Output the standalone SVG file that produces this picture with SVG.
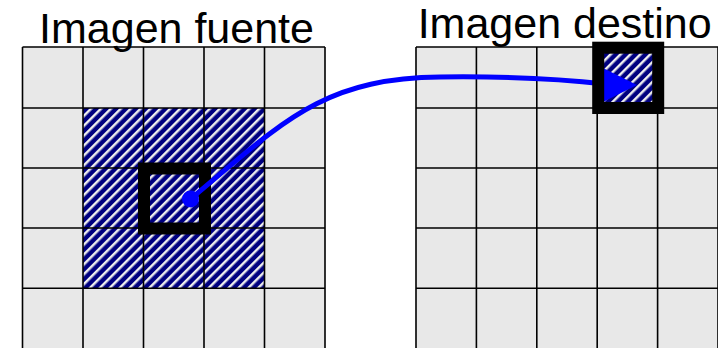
<svg xmlns="http://www.w3.org/2000/svg" width="718" height="348" viewBox="0 0 718 348">
<defs>
<pattern id="hatch" patternUnits="userSpaceOnUse" width="7" height="7" patternTransform="rotate(45)">
<rect x="0" y="0" width="7" height="7" fill="#000080"/>
<rect x="0" y="0" width="2.5" height="7" fill="#eeeeee"/>
</pattern>
</defs>
<style>
.bg{fill:#e8e8e8;}
.hatch{fill:url(#hatch);}
.lines{fill:none;stroke:#000;stroke-width:1.6;}
.frame{fill:none;stroke:#000;stroke-width:12;}
.title{font-family:"Liberation Sans",Arial,sans-serif;font-size:43px;fill:#000;text-anchor:middle;}
.conn{fill:none;stroke:#0000ff;stroke-width:5;}
</style>
<rect width="718" height="348" fill="#fff"/>
<g id="source-image">
<rect class="bg" x="22.5" y="47" width="302.5" height="302"/>
<rect class="hatch" x="83" y="108" width="181.5" height="180"/>
<path class="lines" d="M22.5,47V349M83,47V349M143.5,47V349M204,47V349M264.5,47V349M325,47V349M22.5,47H325M22.5,108H325M22.5,168H325M22.5,228H325M22.5,288.3H325"/>
<text class="title" x="176.5" y="43">Imagen fuente</text>
</g>
<g id="source-window">
<rect class="frame" x="144" y="168.5" width="61" height="60"/>
</g>
<g id="target-image">
<rect class="bg" x="416" y="47" width="303" height="302"/>
<rect class="hatch" x="597.2" y="47" width="60.4" height="61"/>
<path class="lines" d="M416,47V349M476.4,47V349M536.8,47V349M597.2,47V349M657.6,47V349M718,47V349M416,47H718M416,108H718M416,168H718M416,228H718M416,288.3H718"/>
<text class="title" x="564.7" y="38">Imagen destino</text>
</g>
<g id="connectors">
<circle cx="190.5" cy="199" r="8.5" fill="#0000ff"/>
<path class="conn" d="M190.5,199 C280,125 320,78 440,77 C520,76 570,80 605,84"/>
<polygon points="637,85 595,64 595,106" fill="#0000ff"/>
</g>
<g id="target-pixel">
<rect class="frame" x="598.2" y="47.7" width="60" height="60.3"/>
</g>
</svg>
